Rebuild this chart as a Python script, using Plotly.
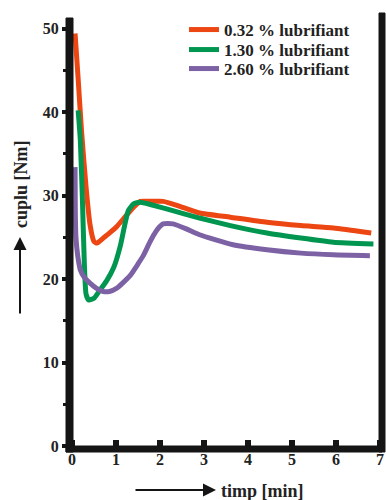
import plotly.graph_objects as go

# time [min] and torque [Nm] for each lubricant level
t_red = [0.07, 0.14, 0.22, 0.32, 0.41, 0.50, 0.57, 0.71, 0.85, 1.02, 1.20, 1.40, 1.55, 1.80, 2.07, 2.40, 2.90, 3.60, 4.43, 5.20, 5.94, 6.80]
y_red = [49.4, 44.0, 37.5, 31.0, 26.5, 24.5, 24.3, 24.9, 25.5, 26.3, 27.4, 28.6, 29.3, 29.3, 29.3, 28.8, 27.9, 27.4, 26.8, 26.4, 26.1, 25.5]

t_green = [0.14, 0.19, 0.24, 0.28, 0.32, 0.38, 0.50, 0.60, 0.79, 0.95, 1.10, 1.20, 1.28, 1.40, 1.55, 1.80, 2.15, 2.90, 3.60, 4.43, 5.20, 5.94, 6.85]
y_green = [40.2, 36.6, 29.0, 22.0, 18.2, 17.5, 17.7, 18.4, 19.8, 21.4, 24.0, 26.5, 28.2, 29.0, 29.2, 28.9, 28.4, 27.3, 26.4, 25.5, 24.9, 24.4, 24.2]

t_purple = [0.07, 0.075, 0.09, 0.13, 0.19, 0.28, 0.41, 0.55, 0.71, 0.85, 1.02, 1.15, 1.32, 1.50, 1.62, 1.75, 1.85, 1.95, 2.07, 2.30, 2.60, 2.90, 3.66, 4.43, 5.20, 5.94, 6.77]
y_purple = [33.4, 28.5, 25.0, 22.8, 21.1, 20.2, 19.5, 18.9, 18.5, 18.5, 18.9, 19.5, 20.4, 21.8, 22.8, 24.2, 25.2, 26.0, 26.6, 26.6, 26.0, 25.3, 24.1, 23.5, 23.1, 22.9, 22.8]

names = ["0.32 % lubrifiant", "1.30 % lubrifiant", "2.60 % lubrifiant"]
colors = ["#EC4612", "#009650", "#7C62A5"]

x_ticks = [0, 1, 2, 3, 4, 5, 6, 7]
y_ticks = [0, 10, 20, 30, 40, 50]

SERIF = "Liberation Serif, Times New Roman, serif"
INK = "#151515"
PW, PH = 312, 430   # plot area size in pixels

fig = go.Figure()
legend_ids = ["legend", "legend2", "legend3"]
for t, y, n, c, lg in zip([t_red, t_green, t_purple], [y_red, y_green, y_purple], names, colors, legend_ids):
    fig.add_trace(go.Scatter(x=t, y=y, mode="lines", name=f"<b>{n}</b>", legend=lg,
                             line=dict(color=c, width=5, shape="spline", smoothing=0.5)))

leg_rows_px = [30, 50, 69]
leg_common = dict(xanchor="left", yanchor="middle", bgcolor="rgba(0,0,0,0)", borderwidth=0,
                  font=dict(family=SERIF, size=17, color="#222222"), itemwidth=30)
legends = {}
for lg, py in zip(legend_ids, leg_rows_px):
    legends[lg] = dict(x=(184 - 70) / PW, y=(448 - py) / PH, **leg_common)

fig.update_layout(
    width=386, height=500,
    margin=dict(l=70, r=4, t=18, b=52, autoexpand=False),
    paper_bgcolor="white", plot_bgcolor="rgba(0,0,0,0)",
    font=dict(family=SERIF, color="#222222"),
    showlegend=True,
    xaxis=dict(range=[-0.045, 7.045], tickvals=x_ticks, ticktext=[f"<b>{v}</b>" for v in x_ticks],
               showgrid=False, zeroline=False, showline=False,
               ticks="inside", ticklen=8, tickwidth=6, tickcolor=INK,
               tickfont=dict(size=16, family=SERIF, color="#222222")),
    yaxis=dict(range=[-0.24, 51.26], tickvals=y_ticks, ticktext=[f"<b>{v}</b>" for v in y_ticks],
               showgrid=False, zeroline=False, showline=False,
               ticks="outside", ticklen=7, tickwidth=4, tickcolor=INK,
               tickfont=dict(size=16, family=SERIF, color="#222222"),
               minor=dict(dtick=5, ticks="outside", ticklen=6, tickwidth=3, tickcolor=INK)),
    **legends,
)

# axis frame (left, bottom, right) as filled bars
fig.add_shape(type="rect", xref="paper", yref="paper", x0=-4/PW, x1=3/PW, y0=-4/PH, y1=1.0,
              fillcolor=INK, line=dict(color=INK, width=1), layer="above")
fig.add_shape(type="rect", xref="paper", yref="paper", x0=-4/PW, x1=1.0, y0=-4/PH, y1=2/PH,
              fillcolor=INK, line=dict(color=INK, width=1), layer="above")
fig.add_shape(type="rect", xref="paper", yref="paper", x0=1.0 - 3/PW, x1=1.0 + 3/PW, y0=-4/PH, y1=1 + 5/PH,
              fillcolor=INK, line=dict(color=INK, width=1), layer="above")

# y axis title with arrow
fig.add_annotation(xref="paper", yref="paper", x=(21 - 70) / PW, y=(448 - 184) / PH,
                   xanchor="center", yanchor="middle",
                   text="<b>cuplu [Nm]</b>", textangle=-90, showarrow=False,
                   font=dict(family=SERIF, size=18, color="#222222"))
fig.add_annotation(xref="paper", yref="paper", x=(20 - 70) / PW, y=(448 - 237) / PH,
                   ax=0, ay=78, axref="pixel", ayref="pixel", text="",
                   showarrow=True, arrowhead=2, arrowsize=1.3, arrowwidth=2, arrowcolor=INK)

# x axis title with arrow
fig.add_annotation(xref="paper", yref="paper", x=(262 - 70) / PW, y=(448 - 491) / PH,
                   xanchor="center", yanchor="middle",
                   text="<b>timp [min]</b>", showarrow=False,
                   font=dict(family=SERIF, size=18, color="#222222"))
fig.add_annotation(xref="paper", yref="paper", x=(216 - 70) / PW, y=(448 - 490) / PH,
                   ax=-82, ay=0, axref="pixel", ayref="pixel", text="",
                   showarrow=True, arrowhead=2, arrowsize=1.3, arrowwidth=2, arrowcolor=INK)

fig.write_html("out.html")
